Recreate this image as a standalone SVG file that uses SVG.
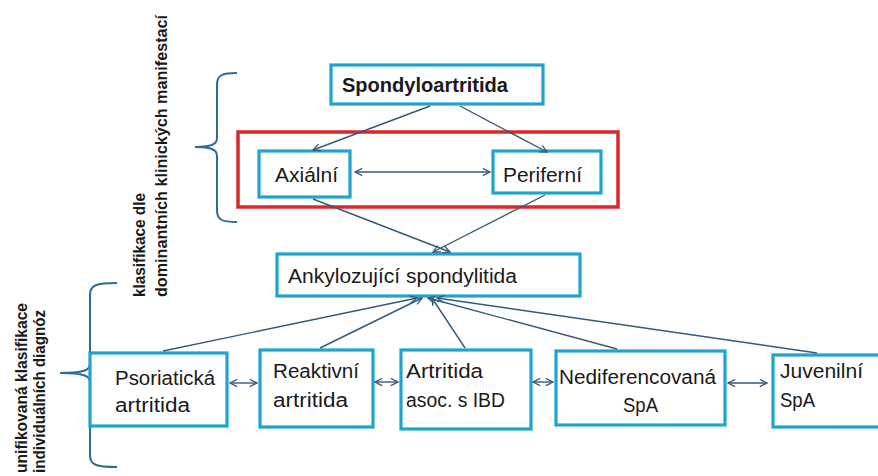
<svg xmlns="http://www.w3.org/2000/svg" width="878" height="476" viewBox="0 0 878 476">
<style>
.box{fill:#fff;stroke:#1fa3cf;stroke-width:3.2}
.red{fill:none;stroke:#d8282c;stroke-width:3.5}
.t{font-family:"Liberation Sans",Arial,sans-serif;font-size:20px;fill:#1a1a1a}
.b{font-weight:bold}
.side{font-family:"Liberation Sans",Arial,sans-serif;font-size:17px;font-weight:bold;fill:#1a1a1a}
.c{fill:none;stroke:#34597a;stroke-width:1.4}
.br{fill:none;stroke:#2c6c9a;stroke-width:2}
</style>
<defs>
<marker id="ah" viewBox="0 0 10 10" refX="9" refY="5" markerWidth="9" markerHeight="9" markerUnits="userSpaceOnUse" orient="auto-start-reverse">
<path d="M1,1 L9,5 L1,9" fill="none" stroke="#34597a" stroke-width="1.4"/>
</marker>
</defs>
<rect width="878" height="476" fill="#fff"/>

<g id="braces">
<path class="br" d="M237,73 C222,73 217,75 217,85 L217,138 C217,144 212,147 195,147 C212,147 217,150 217,156 L217,210 C217,220 222,222 237,222"/>
<path class="br" d="M117,283 C96,283 90,285 90,295 L90,364 C90,370 84,373 60,373 C84,373 90,376 90,382 L90,455 C90,465 96,467 117,467"/>
</g>

<g id="side-labels">
<text class="side" transform="translate(145,297) rotate(-90)" textLength="104" lengthAdjust="spacingAndGlyphs">klasifikace dle</text>
<text class="side" transform="translate(167,297) rotate(-90)" textLength="282" lengthAdjust="spacingAndGlyphs">dominantních klinických manifestací</text>
<text class="side" transform="translate(27,473) rotate(-90)" textLength="170" lengthAdjust="spacingAndGlyphs">unifikovaná klasifikace</text>
<text class="side" transform="translate(45,473) rotate(-90)" textLength="163" lengthAdjust="spacingAndGlyphs">individuálních diagnóz</text>
</g>

<g id="group-axial-peripheral">
<rect class="red" x="238" y="132" width="380" height="75"/>
</g>

<g id="spondyloartritida">
<rect class="box" x="331" y="65" width="212" height="39"/>
<text class="t b" x="342" y="92" textLength="166" lengthAdjust="spacingAndGlyphs">Spondyloartritida</text>
</g>

<g id="axialni">
<rect class="box" x="259" y="151" width="91" height="46"/>
<text class="t" x="275" y="182" textLength="63" lengthAdjust="spacingAndGlyphs">Axiální</text>
</g>

<g id="periferni">
<rect class="box" x="493" y="151" width="108" height="42"/>
<text class="t" x="503" y="182" textLength="79" lengthAdjust="spacingAndGlyphs">Periferní</text>
</g>

<g id="ankylozujici">
<rect class="box" x="277" y="254" width="303" height="42"/>
<text class="t" x="288" y="283" textLength="229" lengthAdjust="spacingAndGlyphs">Ankylozující spondylitida</text>
</g>

<g id="psoriaticka">
<rect class="box" x="90" y="353" width="137" height="73"/>
<text class="t" x="115" y="385" textLength="100" lengthAdjust="spacingAndGlyphs">Psoriatická</text>
<text class="t" x="115" y="412" textLength="75" lengthAdjust="spacingAndGlyphs">artritida</text>
</g>

<g id="reaktivni">
<rect class="box" x="260" y="350" width="113" height="77"/>
<text class="t" x="273" y="378" textLength="86" lengthAdjust="spacingAndGlyphs">Reaktivní</text>
<text class="t" x="273" y="407" textLength="75" lengthAdjust="spacingAndGlyphs">artritida</text>
</g>

<g id="artritida-ibd">
<rect class="box" x="401" y="350" width="130" height="79"/>
<text class="t" x="406" y="378" textLength="77" lengthAdjust="spacingAndGlyphs">Artritida</text>
<text class="t" x="406" y="407" textLength="99" lengthAdjust="spacingAndGlyphs">asoc. s IBD</text>
</g>

<g id="nediferencovana">
<rect class="box" x="556" y="351" width="169" height="74"/>
<text class="t" x="559" y="384" textLength="157" lengthAdjust="spacingAndGlyphs">Nediferencovaná</text>
<text class="t" x="623" y="412" textLength="35" lengthAdjust="spacingAndGlyphs">SpA</text>
</g>

<g id="juvenilni">
<rect class="box" x="773" y="355" width="110" height="72"/>
<text class="t" x="780" y="378" textLength="83" lengthAdjust="spacingAndGlyphs">Juvenilní</text>
<text class="t" x="780" y="407" textLength="35" lengthAdjust="spacingAndGlyphs">SpA</text>
</g>

<g id="connectors">
<line class="c" x1="430" y1="106" x2="313" y2="150" marker-end="url(#ah)"/>
<line class="c" x1="460" y1="106" x2="547" y2="152" marker-end="url(#ah)"/>
<line class="c" x1="355" y1="172" x2="490" y2="172" marker-start="url(#ah)" marker-end="url(#ah)"/>
<line class="c" x1="313" y1="199" x2="450" y2="252" marker-end="url(#ah)"/>
<line class="c" x1="545" y1="195" x2="433" y2="252" marker-end="url(#ah)"/>
<line class="c" x1="163" y1="351" x2="417" y2="298" marker-end="url(#ah)"/>
<line class="c" x1="320" y1="348" x2="422" y2="298" marker-end="url(#ah)"/>
<line class="c" x1="465" y1="348" x2="432" y2="298" marker-end="url(#ah)"/>
<line class="c" x1="617" y1="349" x2="428" y2="298" marker-end="url(#ah)"/>
<line class="c" x1="817" y1="353" x2="437" y2="298" marker-end="url(#ah)"/>
<line class="c" x1="230" y1="383" x2="257" y2="383" marker-start="url(#ah)" marker-end="url(#ah)"/>
<line class="c" x1="375" y1="382" x2="398" y2="382" marker-start="url(#ah)" marker-end="url(#ah)"/>
<line class="c" x1="533" y1="382" x2="553" y2="382" marker-start="url(#ah)" marker-end="url(#ah)"/>
<line class="c" x1="728" y1="383" x2="767" y2="383" marker-start="url(#ah)" marker-end="url(#ah)"/>
</g>
</svg>
